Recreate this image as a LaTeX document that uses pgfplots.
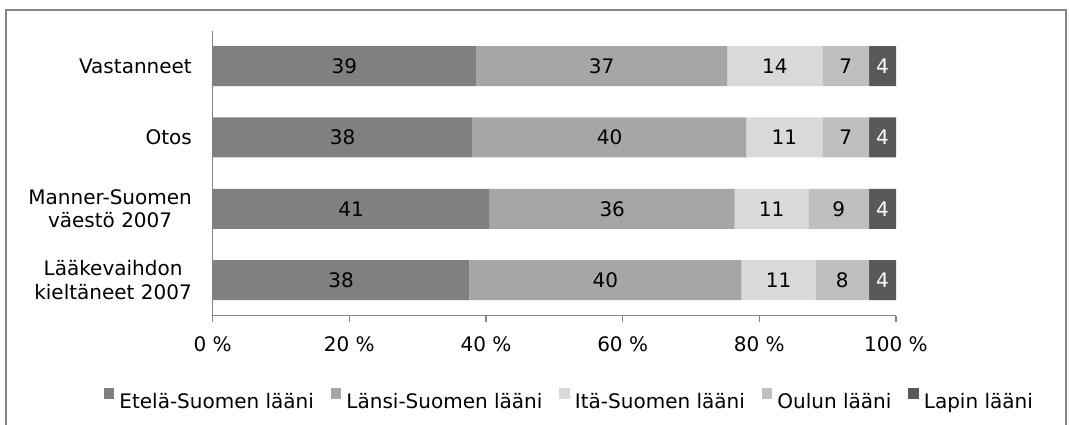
\documentclass[border=0pt]{standalone}
\usepackage{pgfplots}
\usepackage{pgfplotstable}
\pgfplotsset{compat=1.18}
\usepackage{fontspec}
\setmainfont{DejaVu Sans}

\definecolor{axisgray}{HTML}{868686}
\definecolor{etela}{HTML}{808080}
\definecolor{lansi}{HTML}{A6A6A6}
\definecolor{ita}{HTML}{D9D9D9}
\definecolor{oulu}{HTML}{BFBFBF}
\definecolor{lappi}{HTML}{595959}

% Distribution by province (%), one row per group
\pgfplotstableread{
row etela lansi ita oulu lappi
0 38.53 36.80 13.90 6.82 3.95
1 38.05 40.05 11.13 6.82 3.95
2 40.54 35.86 10.78 8.87 3.95
3 37.57 39.80 10.87 7.81 3.95
}\shares

% one stacked segment (fill colour, label colour); its rounded value is
% printed in the middle of the segment
\pgfplotsset{
  segment/.style 2 args={
    fill=#1, draw=none,
    point meta=explicit,
    nodes near coords={\pgfmathprintnumber[fixed,precision=0,assume math mode=true]{\pgfplotspointmeta}},
    every node near coord/.style={anchor=center, text=#2},
  },
}

\begin{document}
\fontsize{20}{23.5}\selectfont
\begin{tikzpicture}[x=1pt,y=1pt,font=\fontsize{20}{23.5}\selectfont]
\useasboundingbox (0,0) rectangle (1069,424);
\draw[axisgray, line width=1.5pt] (6,-5) rectangle (1066,414);
\begin{axis}[
  at={(212.7pt,108.3pt)}, anchor=south west,
  scale only axis, width=683.3pt, height=285.2pt,
  xbar stacked, bar width=40pt,
  legend image code/.code={\fill[#1] (0pt,3.4pt) rectangle (10.5pt,14pt);},
  xmin=0, xmax=100, ymin=-0.5, ymax=3.5,
  y dir=reverse, clip=false,
  axis x line*=bottom, axis y line*=left,
  axis line style={axisgray, line width=1.5pt},
  xtick={0,20,40,60,80,100},
  xticklabels={0 \%,20 \%,40 \%,60 \%,80 \%,100 \%},
  xtick style={axisgray, line width=1.5pt},
  tick align=outside, major tick length=6pt,
  xticklabel style={anchor=base, inner sep=0pt, yshift=-30pt},
  ytick={0,1,2,3},
  yticklabels={Vastanneet,Otos,{Manner-Suomen\\väestö 2007},{Lääkevaihdon\\kieltäneet 2007}},
  ytick style={draw=none},
  yticklabel style={align=center, inner sep=0pt, xshift=-14.7pt},
  legend columns=5,
  legend cell align=left,
  legend style={draw=none, fill=none, inner sep=0pt,
    at={(axis description cs:-0.1595,-0.2950)}, anchor=west,
    nodes={inner sep=0pt},
    /tikz/every odd column/.append style={column sep=5pt},
    /tikz/every even column/.append style={column sep=17pt}},
]
% legend swatches
\addlegendimage{fill=etela, draw=none}
\addlegendimage{fill=lansi, draw=none}
\addlegendimage{fill=ita, draw=none}
\addlegendimage{fill=oulu, draw=none}
\addlegendimage{fill=lappi, draw=none}
\legend{Etelä-Suomen lääni,Länsi-Suomen lääni,Itä-Suomen lääni,Oulun lääni,Lapin lääni}

\addplot[segment={etela}{black}] table[x=etela, y=row, meta=etela] {\shares};
\addplot[segment={lansi}{black}] table[x=lansi, y=row, meta=lansi] {\shares};
\addplot[segment={ita}{black}] table[x=ita, y=row, meta=ita] {\shares};
\addplot[segment={oulu}{black}] table[x=oulu, y=row, meta=oulu] {\shares};
\addplot[segment={lappi}{white}] table[x=lappi, y=row, meta=lappi] {\shares};
\end{axis}
\end{tikzpicture}
\end{document}
